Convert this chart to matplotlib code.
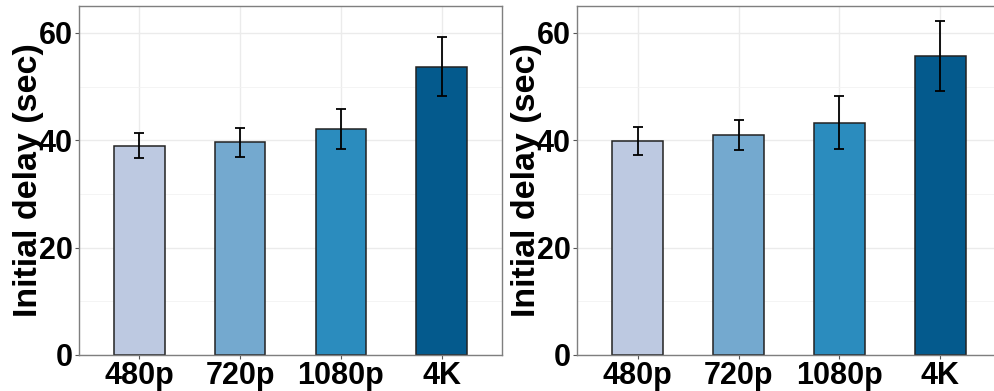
import numpy as np
import matplotlib
matplotlib.use("Agg")
import matplotlib.pyplot as plt

plt.rcParams['font.family'] = ['Liberation Sans', 'DejaVu Sans']

categories = ['480p', '720p', '1080p', '4K']
colors = ['#BDC9E1', '#74A9CF', '#2B8CBE', '#045A8D']

# left panel
left_mean = [39.0, 39.6, 42.1, 53.7]
left_err = [2.3, 2.65, 3.65, 5.55]
# right panel
right_mean = [39.9, 41.0, 43.3, 55.7]
right_err = [2.6, 2.75, 4.9, 6.5]

W, H = 995, 391
fig = plt.figure(figsize=(W / 100, H / 100), dpi=100)

def panel(rect, means, errs):
    ax = fig.add_axes(rect)
    x = np.arange(1, len(categories) + 1)
    ax.set_axisbelow(True)
    ax.bar(x, means, width=0.5, color=colors, edgecolor='#222222', linewidth=1.1, zorder=2)
    ax.errorbar(x, means, yerr=errs, fmt='none', ecolor='black', elinewidth=1.3,
                capsize=3.8, capthick=1.3, zorder=3)
    ax.set_xlim(0.4, 4.6)
    ax.set_ylim(0, 65)
    ax.set_yticks([0, 20, 40, 60])
    ax.set_yticks([10, 30, 50], minor=True)
    ax.set_xticks(x)
    ax.set_xticklabels(categories)
    ax.grid(True, which='major', color='#EBEBEB', linewidth=1.0)
    ax.grid(True, which='minor', axis='y', color='#F2F2F2', linewidth=0.6)
    ax.tick_params(axis='both', which='major', labelsize=22, length=3, color='#555555', pad=1.5, width=0.8)
    ax.tick_params(axis='y', which='minor', length=0)
    for lab in ax.get_xticklabels() + ax.get_yticklabels():
        lab.set_fontweight('bold')
    for s in ax.spines.values():
        s.set_color('#7F7F7F')
        s.set_linewidth(1.0)
    # label overlaps the tick labels in the original too
    ax.set_ylabel('Initial delay (sec)', fontsize=24.5, fontweight='bold')
    ax.yaxis.set_label_coords(-0.083, 0.5)
    return ax

ax1 = panel([79 / W, (H - 355) / H, 423 / W, 349 / H], left_mean, left_err)
ax2 = panel([577 / W, (H - 355) / H, 424 / W, 349 / H], right_mean, right_err)

fig.savefig('out.png', dpi=100)
